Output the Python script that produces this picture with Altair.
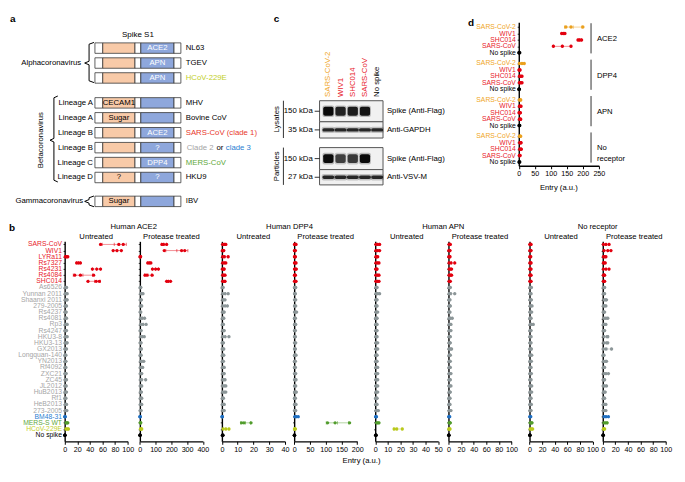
import altair as alt
import numpy as np
import pandas as pd

FONT = "Liberation Sans"
SX = 0.98
SY = 0.96


def px(x):
    return round((x - 1) * SX, 2)


def py(y):
    return round((y - 4) * SY, 2)


W = px(684)
H = py(454)

RED = "#e3000f"
RED_LAB = "#e8202a"
GRAY_DOT = "#8c9698"
GRAY_LAB = "#a5a5a5"
BLUE = "#1f6fc2"
BLUE_LAB = "#2a80d2"
GREEN = "#519c2c"
GREEN_LAB = "#5fa83b"
YG = "#b9c91c"
YG_LAB = "#c2cf2a"
ORANGE = "#eaa01e"
BLACK = "#000000"
PEACH = "#f8caa8"
SBLUE = "#8ea7dc"

# ======================= panel b data =======================
strains = ["SARS-CoV", "WIV1", "LYRa11", "Rs7327", "Rs4231", "Rs4084", "SHC014",
           "As6526", "Yunnan 2011", "Shaanxi 2011", "279-2005", "Rs4237", "Rs4081", "Rp3",
           "Rs4247", "HKU3-8", "HKU3-13", "GX2013", "Longquan-140", "YN2013", "Rf4092",
           "ZXC21", "ZC45", "JL2012", "HuB2013", "Rf1", "HeB2013", "273-2005",
           "BM48-31", "MERS-S WT", "HCoV-229E", "No spike"]
strain_group = ["clade1"] * 7 + ["clade2"] * 21 + ["clade3", "mers", "alpha", "none"]
DOT_COL = {"clade1": RED, "clade2": GRAY_DOT, "clade3": BLUE, "mers": GREEN, "alpha": YG, "none": BLACK}
LAB_COL = {"clade1": RED_LAB, "clade2": GRAY_LAB, "clade3": BLUE_LAB, "mers": GREEN_LAB, "alpha": YG_LAB, "none": BLACK}

ace2_untreated = [
    [57, 86, 93], [77, 83, 90], [1, 3, 5], [19, 22, 25], [44, 51, 57], [16, 25, 46], [37, 50, 55],
    [1, 2, 3], [1, 2, 4], [1, 3, 4], [1, 2, 3], [0.5, 1.5, 2.5], [1, 2, 3], [1, 2, 4], [0.5, 2, 3],
    [1, 2, 4], [1, 3, 4], [0.5, 1.5, 3], [0.5, 1, 2], [0.5, 1.5, 2], [0.5, 1, 2], [0.5, 1.5, 2.5],
    [1, 2, 3], [0.5, 1.5, 2.5], [0.5, 1.5, 3], [0.5, 1, 2], [1, 2, 3], [1, 2, 3.5],
    [0.3, 0.5, 0.8], [2, 3.5, 5], [2, 4, 6], [0.2, 0.4, 0.6]]
ace2_protease = [
    [140, 150, 170], [155, 265, 285], [1, 3, 5], [50, 60, 70], [80, 100, 118], [33, 45, 78], [170, 180, 195],
    [2, 4, 6], [5, 12, 20], [3, 6, 10], [3, 8, 12], [2, 4, 6], [5, 15, 30], [5, 20, 40], [2, 5, 8],
    [5, 15, 28], [2, 5, 8], [3, 6, 10], [2, 5, 8], [5, 12, 25], [3, 10, 18], [3, 8, 12],
    [5, 10, 37], [3, 8, 12], [3, 6, 10], [3, 8, 12], [3, 8, 12], [2, 5, 8],
    [0.5, 1.5, 2.5], [2, 4, 6], [4, 8, 12], [0.5, 1, 2]]
dpp4_untreated = [
    [0.5, 1.5, 2.5], [0.3, 0.8, 1.2], [0.5, 1.5, 4], [0.5, 1.5, 2.5], [0.3, 1, 1.5], [0.5, 1.2, 2], [0.5, 1.5, 2],
    [0.2, 0.5, 0.8], [0.5, 2, 4], [0.5, 1, 2], [0.5, 2, 3.5], [0.5, 1, 1.5], [0.3, 0.8, 1.2], [0.3, 0.6, 1],
    [0.5, 1, 1.5], [0.5, 2, 4.5], [0.2, 0.6, 1], [0.3, 0.8, 1.2], [0.3, 0.8, 1.2], [0.3, 0.6, 1], [0.3, 1, 1.5],
    [0.5, 1, 1.5], [0.5, 1.2, 2], [0.5, 1.5, 2.5], [0.5, 1.5, 2.5], [0.3, 0.6, 1], [0.3, 1, 1.5], [0.5, 1, 1.5],
    [0.1, 0.2, 0.3], [12.5, 14, 18.5], [0.8, 2.5, 4.5], [0.3, 0.5, 0.7]]
dpp4_protease = [
    [1, 3, 6], [1, 2, 4], [1, 2, 4], [1, 3, 6], [1, 3, 7], [1, 2, 4], [1, 3, 6],
    [1, 3, 5], [1, 2, 4], [1, 3, 5], [1, 2, 5], [1, 4, 8], [1, 2, 4], [1, 3, 5], [1, 2, 4], [1, 2, 4],
    [1, 3, 5], [1, 2, 4], [1, 3, 6], [1, 2, 4], [1, 2, 4], [1, 3, 5], [1, 3, 6], [1, 3, 5], [1, 4, 7],
    [1, 2, 4], [1, 3, 6], [1, 3, 5],
    [2, 6, 13], [106, 130, 176], [1, 2, 4], [0.5, 1, 1.5]]
apn_untreated = [
    [0.5, 2, 3.5], [0.5, 2, 3.5], [0.5, 1, 2], [0.5, 2, 3], [0.3, 1, 1.5], [0.5, 2, 3], [0.5, 2, 3],
    [0.5, 1, 1.5], [0.5, 2, 3.5], [0.3, 1, 1.5], [0.3, 1, 1.5], [0.5, 1, 2], [0.3, 1, 1.5], [0.3, 1, 1.5],
    [0.3, 1, 1.5], [0.3, 1, 1.5], [0.5, 1, 2], [0.5, 1, 2], [0.3, 1, 1.5], [0.3, 1, 1.5], [0.5, 1, 2],
    [0.5, 1, 2], [0.5, 1, 2], [0.5, 1, 2], [0.5, 1, 2], [0.3, 1, 1.5], [0.3, 1, 1.5], [0.5, 1.5, 2.5],
    [0.3, 0.6, 1], [1, 2, 3], [15, 17, 21.5], [0.3, 0.5, 0.8]]
apn_protease = [
    [1, 2, 3], [0.5, 1.5, 2.5], [0.5, 1.5, 2.5], [1, 4, 10], [1, 3, 5], [1, 3, 5], [1, 2, 3],
    [1, 2, 3], [1, 3, 10], [0.5, 1.5, 2.5], [1, 2, 3], [0.5, 1.5, 2.5], [1, 3, 6], [1, 2, 4], [1, 2, 4],
    [1, 2, 3], [1, 2, 3], [1, 3, 5], [1, 2, 3], [1, 2, 3], [1, 2, 3], [1, 2, 4], [1, 2, 3], [1, 2, 4],
    [1, 2, 3], [0.5, 1.5, 2.5], [0.5, 1.5, 2.5], [1, 2, 4],
    [0.5, 1, 2], [1, 2, 3], [0.5, 1.5, 2.5], [0.3, 0.6, 1]]
norec_untreated = [
    [0.5, 1.5, 2.5], [0.5, 1.5, 2.5], [0.5, 1, 2], [0.5, 1.5, 2.5], [0.5, 1.5, 2.5], [0.5, 1.5, 2.5], [0.5, 1.5, 2.5],
    [0.5, 2, 3], [0.5, 1.5, 2.5], [0.5, 2, 3], [1, 2, 4], [0.5, 2, 3.5], [0.5, 1.5, 2.5], [1, 3, 6],
    [0.5, 1.5, 2.5], [0.5, 1.5, 2.5], [0.5, 1.5, 2.5], [0.5, 2, 3], [0.5, 2, 3.5], [0.5, 1.5, 3],
    [0.5, 1.5, 2.5], [0.5, 2, 3], [0.5, 1.5, 2.5], [0.5, 2, 3.5], [0.5, 2, 3.5], [0.5, 1.5, 2.5],
    [0.5, 1.5, 3], [0.5, 1.5, 2.5],
    [0.5, 1, 2], [1, 2.5, 4], [1, 3, 5], [0.3, 0.6, 1]]
norec_protease = [
    [1, 5, 10], [2, 8, 13], [1, 3, 5], [1, 2, 4], [1, 5, 10], [1, 2, 3], [1, 2, 3],
    [1, 2, 3], [1, 2, 3], [2, 4, 6], [1, 3, 5], [1, 2, 3], [2, 5, 8], [1, 3, 5], [1, 2, 3], [2, 7, 8],
    [2, 6, 8], [1, 5, 14], [0.5, 1, 2], [1, 4, 6], [1, 2, 3], [2, 5, 9], [1, 2, 3], [1, 3, 6], [1, 2, 4],
    [1, 2, 3], [1, 3, 5], [1, 3, 5],
    [2, 5, 9], [2, 5, 7], [1, 2, 3], [0.3, 0.6, 1]]

b_values = [ace2_untreated, ace2_protease, dpp4_untreated, dpp4_protease,
            apn_untreated, apn_protease, norec_untreated, norec_protease]
b_receptors = ["Human ACE2", "Human DPP4", "Human APN", "No receptor"]
b_treatments = ["Untreated", "Protease treated"]
b_xmax = [100, 400, 40, 200, 50, 100, 100, 100]
b_step = [20, 100, 10, 50, 10, 20, 20, 20]

# ======================= panel d data =======================
d_strains = ["SARS-CoV-2", "WIV1", "SHC014", "SARS-CoV", "No spike"]
d_dot_col = [ORANGE, RED, RED, RED, BLACK]
d_lab_col = ["#f0a626", RED_LAB, RED_LAB, RED_LAB, BLACK]
d_groups = ["ACE2", "DPP4", "APN", "No\nreceptor"]
d_values = [
    [[147, 163, 200], [134, 139, 144], [185, 190, 196], [108, 136, 163], [0.5, 1.5, 3]],
    [[2, 10, 17], [1, 2, 4], [2, 6, 10], [2, 6, 10], [0.5, 1, 2]],
    [[2, 5, 6], [2, 4, 7], [1, 3, 5], [2, 5, 6], [1, 2, 3]],
    [[2, 4, 6], [3, 6, 7], [3, 6, 8], [2, 3, 4], [1, 2, 3]],
]

# ======================= panel a data =======================
a_viruses = ["NL63", "TGEV", "HCoV-229E", "MHV", "Bovine CoV", "SARS-CoV (clade 1)",
             "", "MERS-CoV", "HKU9", "IBV"]
a_name_colors = [BLACK, BLACK, YG_LAB, BLACK, BLACK, "#e8382c", BLACK, GREEN_LAB, BLACK, BLACK]
a_clade_parts = ["Clade 2", "or", "clade 3"]
a_clade_colors = [GRAY_LAB, BLACK, BLUE_LAB]
a_lineage = ["", "", "", "Lineage A", "Lineage A", "Lineage B", "Lineage B", "Lineage C", "Lineage D", ""]
a_dom1 = ["", "", "", "CECAM1", "Sugar", "", "", "", "?", "Sugar"]
a_dom2 = ["ACE2", "APN", "APN", "", "", "ACE2", "?", "DPP4", "?", ""]
a_genus_idx = [0, 0, 0, 1, 1, 1, 1, 1, 1, 2]
a_genera = ["Alphacoronavirus", "Betacoronavirus", "Gammacoronavirus"]
a_seg_kind = ["end", "rbd1", "link", "rbd2", "end"]
a_seg_len = [9.1, 37.5, 6.8, 38.6, 8.0]

# ======================= panel c data =======================
c_lanes = ["SARS-CoV-2", "WIV1", "SHC014", "SARS-CoV", "No spike"]
c_lane_col = ["#f0a626", RED_LAB, RED_LAB, RED_LAB, BLACK]
c_strips = ["Spike (Anti-Flag)", "Anti-GAPDH", "Spike (Anti-Flag)", "Anti-VSV-M"]
c_mw = ["150 kDa", "35 kDa", "150 kDa", "27 kDa"]
c_intensity = [[1.0, 0.88, 0.9, 0.95, 0.0],
               [0.85, 0.85, 0.85, 0.85, 0.85],
               [1.0, 0.72, 0.75, 1.0, 0.0],
               [0.85, 0.85, 0.85, 0.85, 0.85]]
c_fractions = ["Lysates", "Particles"]


# ======================= helpers =======================
def vtext(text, x, y, size=7.7, color=BLACK, align="center", baseline="middle", weight="normal", angle=None):
    kw = dict(font=FONT, fontSize=size, color=color, align=align, baseline=baseline, fontWeight=weight,
              lineBreak="\n")
    if angle is not None:
        kw["angle"] = angle
    return alt.Chart(pd.DataFrame({"t": [text]})).mark_text(**kw).encode(
        text="t:N", x=alt.value(x), y=alt.value(y))


def summarize(vals, key, keyvals, colors):
    pts, summ, caps = [], [], []
    for kv, reps, c in zip(keyvals, vals, colors):
        for v in reps:
            pts.append({key: kv, "v": v, "col": c})
        m = float(np.mean(reps))
        sd = float(np.std(reps, ddof=1))
        lo, hi = max(m - sd, 0.0), m + sd
        summ.append({key: kv, "lo": lo, "hi": hi, "col": c})
        for v in (lo, m, hi):
            caps.append({key: kv, "v": v, "col": c})
    return pd.DataFrame(pts), pd.DataFrame(summ), pd.DataFrame(caps)


# ======================= panel b =======================
B_X0 = [58, 135, 219, 293, 376, 451, 534, 609]
B_W = 64.5


def b_panel(k):
    vals = b_values[k]
    assert len(vals) == len(strains)
    x0 = B_X0[k]
    xs = alt.Scale(domain=[0, b_xmax[k]], range=[px(x0), px(x0 + B_W)], nice=False, zero=False)
    ys = alt.Scale(domain=[-0.5, 32], range=[py(245), py(454)], nice=False, zero=False)
    pts, summ, caps = summarize(vals, "row", list(range(32)), [DOT_COL[g] for g in strain_group])
    xaxis = alt.Axis(orient="bottom", offset=0, values=list(range(0, b_xmax[k] + 1, b_step[k])),
                     title=None, labelFlush=False, labelOverlap=False, tickSize=3, labelPadding=1,
                     domainWidth=1.3, tickWidth=1, labelFontSize=7.2, grid=False)
    yaxis = alt.Axis(orient="left", offset=-px(x0), values=list(range(32)), labels=False, title=None,
                     tickSize=1.6, domainWidth=1.4, tickWidth=0.8, grid=False)
    bars = alt.Chart(summ).mark_rule(strokeWidth=0.8, opacity=0.55).encode(
        x=alt.X("lo:Q", scale=xs, axis=None), x2="hi:Q",
        y=alt.Y("row:Q", scale=ys, axis=None), color=alt.Color("col:N", scale=None))
    ticks = alt.Chart(caps).mark_tick(orient="vertical", size=3.2, thickness=0.8, opacity=0.7).encode(
        x=alt.X("v:Q", scale=xs, axis=None),
        y=alt.Y("row:Q", scale=ys, axis=None), color=alt.Color("col:N", scale=None))
    dots = alt.Chart(pts).mark_circle(size=11, opacity=1).encode(
        x=alt.X("v:Q", scale=xs, axis=xaxis),
        y=alt.Y("row:Q", scale=ys, axis=yaxis), color=alt.Color("col:N", scale=None))
    layers = [bars, ticks, dots,
              vtext(b_treatments[k % 2], px(x0 + B_W / 2), py(240))]
    if k % 2 == 0:
        cx = (B_X0[k] + B_X0[k + 1] + B_W) / 2
        layers.append(vtext(b_receptors[k // 2], px(cx), py(230)))
    if k == 0:
        lab = pd.DataFrame({"row": list(range(32)), "name": strains,
                            "col": [LAB_COL[g] for g in strain_group]})
        layers.append(alt.Chart(lab).mark_text(font=FONT, fontSize=6.8, align="right", baseline="middle").encode(
            x=alt.value(px(55.2)), y=alt.Y("row:Q", scale=ys, axis=None), text="name:N",
            color=alt.Color("col:N", scale=None)))
        layers.append(vtext("b", px(1), py(226), size=10, weight="bold", align="left", baseline="top"))
    if k == 3:
        layers.append(vtext("Entry (a.u.)", px(362), py(475)))
    return layers


# ======================= panel d =======================
D_STEP = 5.67


def d_panel():
    xs = alt.Scale(domain=[0, 250], range=[px(523), px(605)], nice=False, zero=False)
    ys = alt.Scale(domain=[-0.75, 21.6], range=[py(16), py(166)], nice=False, zero=False)
    positions, flat_vals, cols, labs, grp = [], [], [], [], []
    for g, block in enumerate(d_values):
        for r, reps in enumerate(block):
            pos = round(g * D_STEP + r, 3)
            positions.append(pos)
            flat_vals.append(reps)
            cols.append(d_dot_col[r])
            labs.append({"pos": pos, "name": d_strains[r], "col": d_lab_col[r]})
        grp.append({"top": g * D_STEP - 0.6, "bot": g * D_STEP + 4.1, "mid": g * D_STEP + 1.9,
                    "name": d_groups[g]})
    pts, summ, caps = summarize(flat_vals, "pos", positions, cols)
    xaxis = alt.Axis(orient="bottom", offset=py(166) - H, values=list(range(0, 251, 50)), title=None,
                     labelFlush=False, labelOverlap=False, tickSize=3, labelPadding=1,
                     domainWidth=1.3, tickWidth=1, labelFontSize=7.2, grid=False)
    yaxis = alt.Axis(orient="left", offset=-px(523), values=positions, labels=False, title=None,
                     tickSize=1.6, domainWidth=1.4, tickWidth=0.8, grid=False)
    bars = alt.Chart(summ).mark_rule(strokeWidth=0.9, opacity=0.5).encode(
        x=alt.X("lo:Q", scale=xs, axis=None), x2="hi:Q",
        y=alt.Y("pos:Q", scale=ys, axis=None), color=alt.Color("col:N", scale=None))
    ticks = alt.Chart(caps).mark_tick(orient="vertical", size=3.2, thickness=0.8, opacity=0.7).encode(
        x=alt.X("v:Q", scale=xs, axis=None),
        y=alt.Y("pos:Q", scale=ys, axis=None), color=alt.Color("col:N", scale=None))
    dots = alt.Chart(pts).mark_circle(size=12, opacity=1).encode(
        x=alt.X("v:Q", scale=xs, axis=xaxis),
        y=alt.Y("pos:Q", scale=ys, axis=yaxis), color=alt.Color("col:N", scale=None))
    labels = alt.Chart(pd.DataFrame(labs)).mark_text(font=FONT, fontSize=6.8, align="right", baseline="middle").encode(
        x=alt.value(px(520)), y=alt.Y("pos:Q", scale=ys, axis=None), text="name:N",
        color=alt.Color("col:N", scale=None))
    gdf = pd.DataFrame(grp)
    brackets = alt.Chart(gdf).mark_rule(color="#333333", strokeWidth=1).encode(
        x=alt.value(px(597)), y=alt.Y("top:Q", scale=ys, axis=None), y2="bot:Q")
    glabels = alt.Chart(gdf).mark_text(font=FONT, fontSize=7.7, align="left", baseline="middle",
                                       lineBreak="\n", lineHeight=11).encode(
        x=alt.value(px(603)), y=alt.Y("mid:Q", scale=ys, axis=None), text="name:N")
    return [bars, ticks, dots, labels, brackets, glabels,
            vtext("Entry (a.u.)", px(564), py(189)),
            vtext("d", px(471), py(12), size=10, weight="bold", align="left", baseline="top")]


# ======================= panel a =======================
A_GAPS = [0.0, 0.67, 1.27]


def ux(xr):
    return (xr - 89) / 88 * 100


def a_panel():
    xs = alt.Scale(domain=[0, 100], range=[px(89), px(177)], nice=False, zero=False)
    ys = alt.Scale(domain=[-1.5, 11], range=[py(19.6), py(214.6)], nice=False, zero=False)
    pos = [i + A_GAPS[g] for i, g in enumerate(a_genus_idx)]
    bounds = np.cumsum([0] + a_seg_len)
    seg_fill = {"end": "#ffffff", "rbd1": PEACH, "link": "#ffffff", "rbd2": SBLUE}
    segs, rows = [], []
    for i, p in enumerate(pos):
        for s, kind in enumerate(a_seg_kind):
            segs.append({"x": bounds[s], "x2": bounds[s + 1], "y": p - 0.35, "y2": p + 0.35,
                         "col": seg_fill[kind]})
        rows.append({"pos": p, "name": a_viruses[i], "ncol": a_name_colors[i], "lin": a_lineage[i],
                     "d1": a_dom1[i], "d2": a_dom2[i],
                     "m1": (bounds[1] + bounds[2]) / 2, "m2": (bounds[3] + bounds[4]) / 2})
    rdf = pd.DataFrame(rows)
    boxes = alt.Chart(pd.DataFrame(segs)).mark_rect(stroke="#3a3a3a", strokeWidth=0.8).encode(
        x=alt.X("x:Q", scale=xs, axis=None), x2="x2:Q",
        y=alt.Y("y:Q", scale=ys, axis=None), y2="y2:Q", color=alt.Color("col:N", scale=None))
    t1 = alt.Chart(rdf).mark_text(font=FONT, fontSize=7.8, baseline="middle", color=BLACK).encode(
        x=alt.X("m1:Q", scale=xs, axis=None), y=alt.Y("pos:Q", scale=ys, axis=None), text="d1:N")
    t2 = alt.Chart(rdf).mark_text(font=FONT, fontSize=7.8, baseline="middle", color="white").encode(
        x=alt.X("m2:Q", scale=xs, axis=None), y=alt.Y("pos:Q", scale=ys, axis=None), text="d2:N")
    names = alt.Chart(rdf).mark_text(font=FONT, fontSize=7.8, align="left", baseline="middle").encode(
        x=alt.value(px(182)), y=alt.Y("pos:Q", scale=ys, axis=None), text="name:N",
        color=alt.Color("ncol:N", scale=None))
    clade_x = [183, 213.5, 223]
    cdf = pd.DataFrame({"pos": [pos[6]] * 3, "t": a_clade_parts, "col": a_clade_colors,
                        "xx": [ux(v) for v in clade_x]})
    clade = alt.Chart(cdf).mark_text(font=FONT, fontSize=7.8, align="left", baseline="middle").encode(
        x=alt.X("xx:Q", scale=xs, axis=None), y=alt.Y("pos:Q", scale=ys, axis=None), text="t:N",
        color=alt.Color("col:N", scale=None))
    lin = alt.Chart(rdf).mark_text(font=FONT, fontSize=7.8, align="right", baseline="middle").encode(
        x=alt.value(px(87)), y=alt.Y("pos:Q", scale=ys, axis=None), text="lin:N")
    braces = [(83, pos[0] - 0.38, pos[2] + 0.31, pos[1], 5, 4.5),
              (47, pos[3] - 0.46, pos[8] + 0.3, (pos[3] + pos[8]) / 2, 4, 4),
              (83, pos[9] - 0.36, pos[9] + 0.36, pos[9], 5, 4.5)]
    bseg = []
    for bx, top, bot, mid, hook, tip in braces:
        e = 0.12
        pts = [(bx + hook, top), (bx, top + e), (bx, mid - e), (bx - tip, mid),
               (bx, mid + e), (bx, bot - e), (bx + hook, bot)]
        for (xa, ya), (xb, yb) in zip(pts[:-1], pts[1:]):
            bseg.append({"x": ux(xa), "x2": ux(xb), "y": ya, "y2": yb})
    brace = alt.Chart(pd.DataFrame(bseg)).mark_rule(color=BLACK, strokeWidth=1).encode(
        x=alt.X("x:Q", scale=xs, axis=None), x2="x2:Q",
        y=alt.Y("y:Q", scale=ys, axis=None), y2="y2:Q")
    gdf = pd.DataFrame({"name": a_genera, "pos": [pos[1], (pos[3] + pos[8]) / 2, pos[9]]})
    g_alpha = alt.Chart(gdf.iloc[[0]]).mark_text(font=FONT, fontSize=7.8, align="right", baseline="middle").encode(
        x=alt.value(px(75)), y=alt.Y("pos:Q", scale=ys, axis=None), text="name:N")
    g_beta = alt.Chart(gdf.iloc[[1]]).mark_text(font=FONT, fontSize=7.8, align="center", baseline="middle",
                                                angle=270).encode(
        x=alt.value(px(34)), y=alt.Y("pos:Q", scale=ys, axis=None), text="name:N")
    g_gamma = alt.Chart(gdf.iloc[[2]]).mark_text(font=FONT, fontSize=7.8, align="right", baseline="middle").encode(
        x=alt.value(px(77)), y=alt.Y("pos:Q", scale=ys, axis=None), text="name:N")
    return [boxes, t1, t2, names, clade, lin, brace, g_alpha, g_beta, g_gamma,
            vtext("Spike S1", px(133), py(29), size=8),
            vtext("a", px(2), py(7), size=10, weight="bold", align="left", baseline="top")]


# ======================= panel c =======================
C_BOUNDS = [(0, 22), (22, 39), (49, 72), (72, 88)]
C_HH = [4.6, 1.7, 4.6, 1.8]
C_BW = [0.84, 0.97, 0.84, 0.97]


def c_panel():
    xs = alt.Scale(domain=[-0.72, 4.48], range=[px(319), px(384)], nice=False, zero=False)
    ys = alt.Scale(domain=[0, 88], range=[py(98), py(186)], nice=False, zero=False)
    frames, bands, halos, slabs = [], [], [], []
    for s, (b0, b1) in enumerate(C_BOUNDS):
        cy = (b0 + b1) / 2
        frames.append({"x": -0.72, "x2": 4.48, "y": b0, "y2": b1})
        slabs.append({"cy": cy, "mw": c_mw[s], "name": c_strips[s]})
        for lane, op in enumerate(c_intensity[s]):
            if op <= 0:
                continue
            w, hh = C_BW[s], C_HH[s]
            bands.append({"x": lane - w / 2, "x2": lane + w / 2, "y": cy - hh, "y2": cy + hh, "op": op})
            halos.append({"x": lane - w / 2 - 0.06, "x2": lane + w / 2 + 0.06,
                          "y": cy - hh - 1.5, "y2": cy + hh + 1.5, "op": op * 0.25})
    fr = alt.Chart(pd.DataFrame(frames)).mark_rect(fill="#f1f1f1", stroke="#555555", strokeWidth=1).encode(
        x=alt.X("x:Q", scale=xs, axis=None), x2="x2:Q", y=alt.Y("y:Q", scale=ys, axis=None), y2="y2:Q")
    ha = alt.Chart(pd.DataFrame(halos)).mark_rect(color="#111111", cornerRadius=2).encode(
        x=alt.X("x:Q", scale=xs, axis=None), x2="x2:Q", y=alt.Y("y:Q", scale=ys, axis=None), y2="y2:Q",
        opacity=alt.Opacity("op:Q", scale=None))
    ba = alt.Chart(pd.DataFrame(bands)).mark_rect(color="#0a0a0a", cornerRadius=2).encode(
        x=alt.X("x:Q", scale=xs, axis=None), x2="x2:Q", y=alt.Y("y:Q", scale=ys, axis=None), y2="y2:Q",
        opacity=alt.Opacity("op:Q", scale=None))
    sdf = pd.DataFrame(slabs)
    mw = alt.Chart(sdf).mark_text(font=FONT, fontSize=7.8, align="right", baseline="middle").encode(
        x=alt.value(px(312)), y=alt.Y("cy:Q", scale=ys, axis=None), text="mw:N")
    dash = alt.Chart(sdf).mark_rule(color=BLACK, strokeWidth=0.8).encode(
        x=alt.value(px(314)), x2=alt.value(px(319)), y=alt.Y("cy:Q", scale=ys, axis=None))
    right = alt.Chart(sdf).mark_text(font=FONT, fontSize=7.8, align="left", baseline="middle").encode(
        x=alt.value(px(388)), y=alt.Y("cy:Q", scale=ys, axis=None), text="name:N")
    ldf = pd.DataFrame({"lane": list(range(5)), "name": c_lanes, "col": c_lane_col})
    lanes = alt.Chart(ldf).mark_text(font=FONT, fontSize=7.8, align="left", baseline="middle", angle=270).encode(
        x=alt.X("lane:Q", scale=xs, axis=None), y=alt.value(py(94)), text="name:N",
        color=alt.Color("col:N", scale=None))
    fdf = pd.DataFrame({"name": c_fractions, "y": [0, 49], "y2": [39, 88], "mid": [19.5, 68.5]})
    fline = alt.Chart(fdf).mark_rule(color="#333333", strokeWidth=1).encode(
        x=alt.value(px(282)), y=alt.Y("y:Q", scale=ys, axis=None), y2="y2:Q")
    ftext = alt.Chart(fdf).mark_text(font=FONT, fontSize=7.8, align="center", baseline="middle", angle=270).encode(
        x=alt.value(px(275)), y=alt.Y("mid:Q", scale=ys, axis=None), text="name:N")
    return [fr, ha, ba, mw, dash, right, lanes, fline, ftext,
            vtext("c", px(272), py(7), size=10, weight="bold", align="left", baseline="top")]


all_layers = a_panel() + c_panel() + d_panel()
for k in range(8):
    all_layers += b_panel(k)

chart = alt.layer(*all_layers).resolve_scale(x="independent", y="independent").properties(
    width=W, height=H, padding={"left": 1, "right": 1, "top": 2, "bottom": 2}
).configure_view(stroke=None).configure_axis(
    grid=False, domainColor=BLACK, tickColor=BLACK, labelColor=BLACK, labelFont=FONT, labelFontSize=7
).configure_text(font=FONT)

chart.save("out.html", embed_options={"renderer": "svg", "actions": False})
